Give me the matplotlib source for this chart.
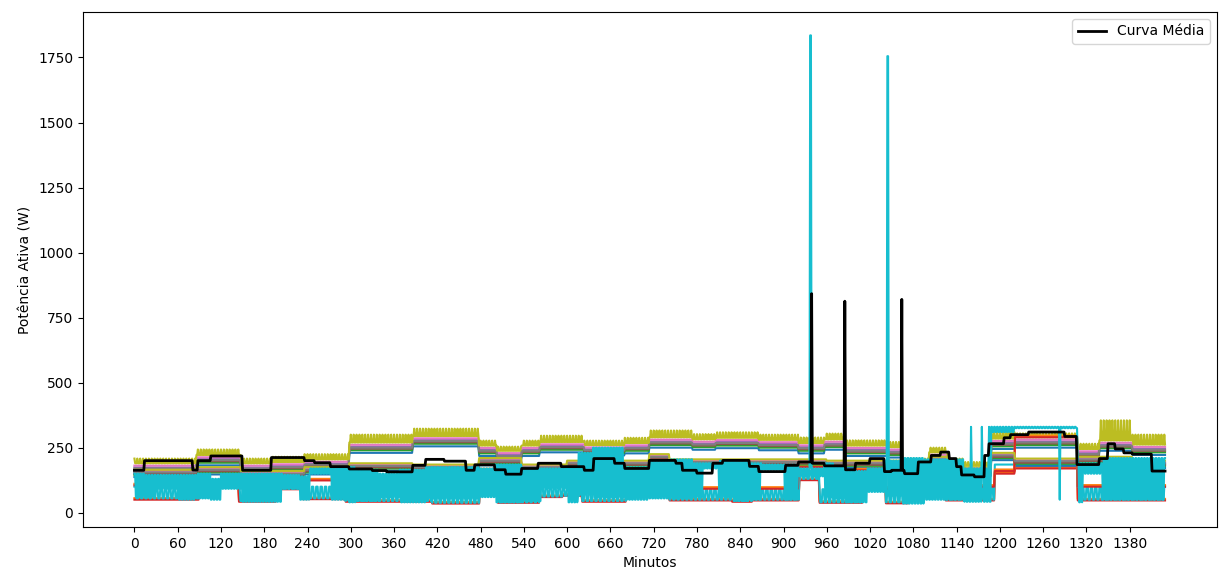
import numpy as np
import matplotlib.pyplot as plt

minutos = np.arange(1430)

# faixa superior: inicio do trecho (min), nivel de base e topo da curva oliva
sup_inicio = [0, 86, 148, 190, 236, 298, 386, 478, 503, 537, 562, 624, 680, 714, 774, 806,
              866, 921, 957, 985, 1045, 1065, 1102, 1128, 1151, 1188, 1221, 1308, 1338, 1384]
sup_base = [190, 222, 190, 195, 205, 270, 295, 258, 238, 258, 272, 260, 268, 290, 282, 288,
            280, 268, 282, 258, 252, 190, 232, 190, 180, 285, 290, 245, 278, 262]
sup_topo = [208, 243, 208, 215, 225, 300, 323, 277, 254, 277, 296, 277, 288, 316, 302, 309,
            300, 289, 304, 278, 272, 208, 250, 208, 195, 310, 305, 265, 355, 300]
# distancia de cada curva da faixa superior ate a base
desloc_sup = {"azul": 40, "verde": 30, "roxo": 16, "marrom": 24, "rosa": 9, "cinza": 20}

# faixa do meio (perto da curva media)
meio_inicio = [0, 86, 148, 236, 298, 386, 478, 537, 600, 714, 742, 830, 960, 1065, 1102,
               1128, 1151, 1188, 1221, 1308, 1384]
meio_nivel = [165, 175, 160, 175, 190, 185, 210, 185, 200, 225, 205, 205, 200, 190, 215,
              185, 170, 230, 208, 215, 200]
desloc_meio = {"azul": 28, "verde": 20, "roxo": 12, "marrom": 16, "rosa": 6, "cinza": 10}

# base inferior (curva vermelha mais baixa)
base_inicio = [0, 90, 145, 197, 233, 293, 413, 479, 504, 562, 594, 621, 682, 742, 829, 857,
               922, 950, 1010, 1042, 1074, 1125, 1193, 1221, 1308]
base_nivel = [50, 95, 42, 90, 52, 42, 35, 108, 38, 60, 65, 42, 65, 47, 42, 47,
              125, 38, 128, 36, 70, 47, 150, 170, 47]

# segunda linha vermelha/laranja
l2_inicio = [0, 30, 62, 148, 205, 243, 298, 386, 478, 500, 537, 565, 624, 714, 742, 921,
             963, 1000, 1040, 1074, 1125, 1193, 1221, 1308]
l2_nivel = [105, 155, 110, 95, 125, 124, 110, 100, 163, 80, 105, 124, 100, 163, 92, 175,
            110, 163, 92, 110, 100, 160, 290, 100]

# ciano de baixo: faixa onde a curva fica alternando
c1_inicio = [0, 90, 145, 197, 233, 293, 413, 479, 504, 562, 594, 621, 682, 742, 829, 857,
             922, 950, 1010, 1042, 1074, 1125, 1193, 1308]
c1_min = [55, 95, 45, 92, 55, 45, 38, 110, 40, 62, 65, 45, 65, 50, 45, 50,
          130, 40, 130, 40, 75, 50, 185, 50]
c1_max = [100, 120, 95, 120, 100, 100, 90, 130, 90, 110, 100, 90, 100, 92, 90, 92,
          160, 90, 160, 90, 110, 95, 185, 100]

# ciano de cima
c2_inicio = [0, 15, 30, 62, 86, 106, 120, 150, 205, 229, 243, 272, 298, 307, 340, 368, 404,
             478, 500, 537, 565, 601, 615, 636, 680, 714, 742, 774, 790, 811, 835, 853, 870,
             900, 921, 957, 969, 985, 1017, 1040, 1065, 1095, 1151, 1188, 1221, 1308, 1315,
             1343]
c2_min = [60, 60, 92, 50, 55, 50, 92, 42, 92, 50, 150, 50, 40, 45, 60, 40, 55,
          60, 40, 45, 95, 40, 70, 60, 50, 55, 55, 60, 170, 60, 45, 50, 165,
          50, 140, 60, 55, 40, 80, 65, 35, 50, 42, 310, 325, 40, 150, 50]
c2_max = [150, 145, 145, 145, 150, 130, 150, 150, 145, 140, 170, 170, 175, 165, 150, 165, 175,
          170, 185, 170, 170, 175, 230, 250, 175, 195, 205, 190, 190, 200, 195, 190, 185,
          185, 170, 190, 175, 160, 170, 200, 210, 205, 170, 330, 330, 190, 190, 210]
# picos isolados do ciano
pico_min = [937, 938, 1044, 1045, 1160, 1175, 1185, 1283]
pico_val = [1835, 1835, 1755, 1755, 330, 330, 330, 50]

# curva media
media_inicio = [0, 14, 81, 88, 106, 150, 190, 236, 250, 272, 298, 330, 350, 386, 404, 430,
                460, 472, 500, 515, 537, 560, 592, 624, 637, 666, 680, 714, 751, 760, 780,
                802, 816, 853, 866, 903, 921, 940, 957, 985, 1000, 1020, 1040, 1050, 1068,
                1087, 1105, 1118, 1130, 1140, 1147, 1165, 1179, 1185, 1206, 1215, 1240,
                1290, 1307, 1338, 1350, 1360, 1372, 1384, 1411]
media_nivel = [163, 200, 164, 200, 218, 163, 212, 200, 192, 177, 168, 162, 157, 182, 205, 198,
               163, 184, 165, 148, 170, 190, 177, 163, 208, 190, 170, 201, 190, 163, 152,
               190, 201, 178, 158, 182, 195, 190, 180, 165, 190, 208, 158, 163, 150,
               195, 220, 233, 208, 177, 145, 138, 220, 265, 288, 300, 310,
               293, 185, 208, 265, 245, 230, 225, 160]
media_pico_min = [939, 985, 1064]
media_pico_val = [842, 813, 820]


def degraus(inicios, valores):
    idx = np.searchsorted(inicios, minutos, side="right") - 1
    return np.asarray(valores, dtype=float)[idx]


def oscila(inicios, baixo, alto, periodo=2, n_alto=1):
    # alterna entre o valor baixo e o alto dentro de cada trecho
    b = degraus(inicios, baixo)
    a = degraus(inicios, alto)
    return np.where(minutos % periodo < n_alto, a, b)


sup = degraus(sup_inicio, sup_base)
meio = degraus(meio_inicio, meio_nivel)
base = degraus(base_inicio, base_nivel)
l2 = degraus(l2_inicio, l2_nivel)

oliva_sup = oscila(sup_inicio, sup_base, sup_topo, periodo=4, n_alto=1)
ciano1 = oscila(c1_inicio, c1_min, c1_max, periodo=6, n_alto=3)
ciano2 = oscila(c2_inicio, c2_min, c2_max, periodo=4, n_alto=2)
ciano2[pico_min] = pico_val

media = degraus(media_inicio, media_nivel)
media[media_pico_min] = media_pico_val

# ordem segue o ciclo de cores padrao (tab10), duas voltas
curvas = [
    sup - desloc_sup["azul"],
    base + 6,
    sup - desloc_sup["verde"],
    base,
    sup - desloc_sup["roxo"],
    sup - desloc_sup["marrom"],
    sup - desloc_sup["rosa"],
    sup - desloc_sup["cinza"],
    oliva_sup,
    ciano1,
    meio - desloc_meio["azul"],
    l2 + 6,
    meio - desloc_meio["verde"],
    l2,
    meio - desloc_meio["roxo"],
    meio - desloc_meio["marrom"],
    meio - desloc_meio["rosa"],
    meio - desloc_meio["cinza"],
    meio,
    ciano2,
]

fig = plt.figure(figsize=(12.19, 5.75), dpi=100)
ax = fig.add_axes([0.068, 0.0835, 0.930, 0.8957])

for c in curvas:
    ax.plot(minutos, c)

ax.plot(minutos, media, color="black", linewidth=2, label="Curva Média")

ax.set_xticks(range(0, 1440, 60))
ax.set_xlabel("Minutos")
ax.set_ylabel("Potência Ativa (W)")
ax.legend(loc="upper right")

plt.savefig("out.png", dpi=100)
